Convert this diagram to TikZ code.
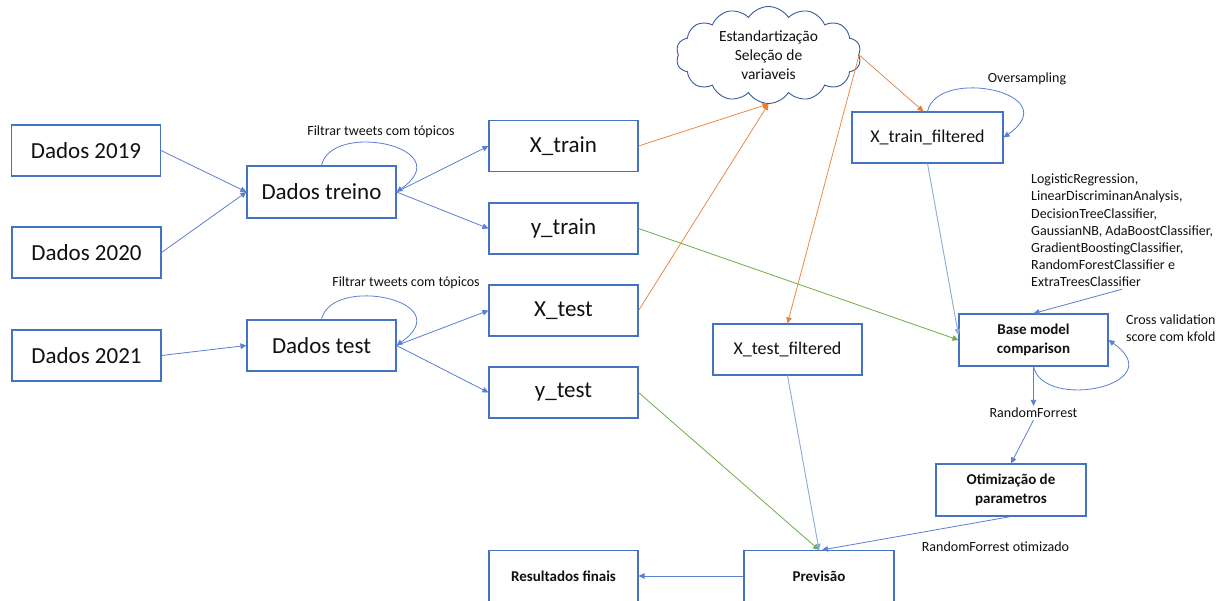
\documentclass[tikz,border=0pt]{standalone}
\usepackage{fontspec}
\setmainfont{Carlito}
\usetikzlibrary{arrows.meta,shapes.symbols}
\definecolor{boxblue}{HTML}{4472C4}
\definecolor{cloudline}{HTML}{3A5A9C}
\definecolor{lineblue}{HTML}{5B7FD1}
\definecolor{paleblue}{HTML}{8EA9DB}
\definecolor{flowor}{HTML}{ED7D31}
\definecolor{flowgr}{HTML}{70AD47}
\definecolor{ink}{HTML}{111111}
\begin{document}
\begin{tikzpicture}[x=1pt,y=1pt,
  every node/.style={text=ink},
  box/.style={draw=boxblue, line width=1.1pt, minimum width=149pt,
    minimum height=51pt, inner sep=2pt, align=center},
  big/.style={font=\fontsize{23}{28}\selectfont},
  mid/.style={font=\fontsize{18}{22}\selectfont},
  small/.style={font=\bfseries\fontsize{15}{18.5}\selectfont},
  lbl/.style={font=\fontsize{14}{17.2}\selectfont, inner sep=2pt},
  tip/.style={-{Triangle[length=6pt,width=5.5pt]}},
  bl/.style={tip, draw=lineblue, line width=0.8pt},
  pb/.style={tip, draw=paleblue, line width=0.9pt},
  orr/.style={tip, draw=flowor, line width=0.7pt},
  gr/.style={tip, draw=flowgr, line width=0.8pt}
]
\useasboundingbox (0,0) rectangle (1229,601);
\fill[white] (0,0) rectangle (1229,601);

% data sources and splits
\node[box,big] (d19) at (86,450.5) {Dados 2019};
\node[box,big] (d20) at (86.5,348.5) {Dados 2020};
\node[box,big] (d21) at (86.5,245.5) {Dados 2021};
\node[box,big,minimum height=52pt] (tr) at (321.5,409) {Dados treino};
\node[box,big] (te) at (321.5,255.5) {Dados test};
\node[box,big] (xtr) at (563.5,455) {X\_train};
\node[box,big] (ytr) at (563.5,372.5) {y\_train};
\node[box,big] (xte) at (563.5,290.5) {X\_test};
\node[box,big] (yte) at (563.5,208.5) {y\_test};

% filtered sets and modelling steps
\node[box,mid,minimum width=151pt] (xtrf) at (927.5,463.5) {X\_train\_filtered};
\node[box,mid] (xtef) at (787.5,251.5) {X\_test\_filtered};
\node[box,small,minimum height=52pt] (base) at (1033.5,261) {Base model\\comparison};
\node[box,small,minimum width=150pt,minimum height=52pt] (opt) at (1011,111) {Otimização de\\parametros};
\node[box,small,minimum width=150pt] (prev) at (819,25) {Previsão};
\node[box,small] (res) at (563.5,25) {Resultados finais};

% preprocessing cloud
\node[cloud, draw=cloudline, line width=0.9pt, cloud puffs=14, cloud puff arc=115,
  cloud ignores aspect, minimum width=185pt, minimum height=97pt, inner sep=-12pt,
  align=center, font=\fontsize{15.5}{19}\selectfont] (cl) at (768.5,546)
  {Estandartização\\Seleção de\\variaveis};

% free labels
\node[lbl] (f1) at (381,469) {Filtrar tweets com tópicos};
\node[lbl] (f2) at (406,318) {Filtrar tweets com tópicos};
\node[lbl] (ov) at (1027,522) {Oversampling};
\node[lbl, anchor=west, align=left] (cls) at (1029,370.5)
  {LogisticRegression,\\LinearDiscriminanAnalysis,\\DecisionTreeClassifier,\\GaussianNB, AdaBoostClassifier,\\GradientBoostingClassifier,\\RandomForestClassifier e\\ExtraTreesClassifier};
\node[lbl, anchor=west, align=left] (cv) at (1124,272.5) {Cross validation\\score com kfold};
\node[lbl] (rf) at (1033.5,188) {RandomForrest};
\node[lbl] (rfo) at (995.5,54) {RandomForrest otimizado};

% merging and splitting
\draw[bl] (d19.east) -- (tr.west);
\draw[bl] (d20.east) -- (tr.west);
\draw[bl] (d21.east) -- (te.west);
\draw[bl] (tr.east) -- (xtr.west);
\draw[bl] (tr.east) -- (ytr.west);
\draw[bl] (te.east) -- (xte.west);
\draw[bl] (te.east) -- (yte.west);

% self loops
\draw[bl] (tr.north) .. controls +(10,45) and +(64,45) .. (tr.east);
\draw[bl] (te.north) .. controls +(10,45) and +(64,45) .. (te.east);
\draw[bl] (xtrf.north) .. controls +(10,45) and +(64,45) .. (xtrf.east);
\draw[bl] (base.south) .. controls +(10,-45) and +(64,-45) .. (base.east);

% preprocessing flow
\draw[orr] (xtr.east) -- (cl.south);
\draw[orr] (xte.east) -- (cl.south);
\draw[orr] (cl.east) -- ([xshift=-4pt]xtrf.north);
\draw[orr] (cl.east) -- (xtef.north);

% targets
\draw[gr] (ytr.east) -- (base.west);
\draw[gr] (yte.east) -- (prev.north);

% modelling flow
\draw[pb] (xtrf.south) -- ([yshift=5pt]base.west);
\draw[pb] (xtef.south) -- (prev.north);
\draw[bl] (cls.south) -- (base.north);
\draw[bl] (base.south) -- (rf.north);
\draw[bl] (rf.south) -- (opt.north);
\draw[bl] (opt.south) -- ([xshift=3pt]prev.north);
\draw[bl] (prev.west) -- (res.east);
\end{tikzpicture}
\end{document}
